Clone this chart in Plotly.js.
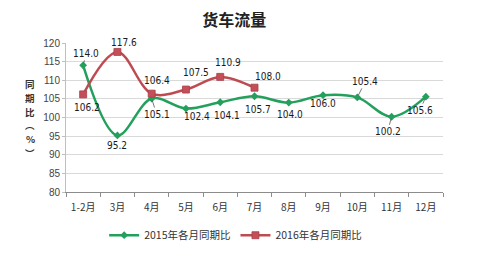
<!DOCTYPE html>
<html>
<head>
<meta charset="utf-8">
<script src="https://cdn.plot.ly/plotly-3.0.1.min.js"></script>
<style>html,body{margin:0;padding:0;background:#fff;}#chart{width:494px;height:275px;}</style>
</head>
<body>
<div id="chart"></div>
<script>
// ---- data ----
const months = ["1-2月","3月","4月","5月","6月","7月","8月","9月","10月","11月","12月"];
const series2015 = [114.0, 95.2, 105.1, 102.4, 104.1, 105.7, 104.0, 106.0, 105.4, 100.2, 105.6];
const series2016 = [106.2, 117.6, 106.4, 107.5, 110.9, 108.0];
const name2015 = "2015年各月同期比";
const name2016 = "2016年各月同期比";
const chartTitle = "货车流量";
const yTitleChars = ["同","期","比","︵","%","︶"];

// ---- label placement (pixel offsets, leader line flag) ----
const off2015 = [[3,-12,true],[0,10,false],[5,16,true],[11,8,false],[7,13,false],[3,13,false],[1,12,false],[0,8,false],[8,-16,true],[-4,15,true],[-6,14,true]];
const off2016 = [[4,13,false],[7,-9,false],[5,-13,false],[10,-17,false],[8,-14,false],[13,-11,false]];

const green = "#22a05c", red = "#bf4b52";
const labelFont = {family:"DejaVu Sans Condensed, Liberation Sans, sans-serif", size:10, color:"#1a1a1a"};

function makeLabels(vals, offs) {
  return vals.map((v, i) => {
    const o = offs[i];
    const a = {x: months[i], y: v, xref:"x", yref:"y", text: v.toFixed(1), font: labelFont};
    if (o[2]) {
      Object.assign(a, {showarrow:true, arrowhead:0, arrowwidth:0.8, arrowcolor:"#555", ax:o[0], ay:o[1], standoff:2});
    } else {
      Object.assign(a, {showarrow:false, xshift:o[0], yshift:-o[1]});
    }
    return a;
  });
}

const annotations = [].concat(makeLabels(series2015, off2015), makeLabels(series2016, off2016));
yTitleChars.forEach((c, i) => {
  annotations.push({xref:"paper", yref:"paper", x:-0.095, y:(192-(84+i*13.8))/149, xanchor:"center", yanchor:"middle",
    text:"<b>"+c+"</b>", showarrow:false, borderpad:0,
    font:{family:"Noto Sans CJK SC", size:9.5, color:"#333"}});
});

const traces = [
  {x: months, y: series2015, name: name2015, type:"scatter", mode:"lines+markers",
   line:{color:green, width:2.5, shape:"spline", smoothing:1}, marker:{symbol:"diamond", size:6, color:green}},
  {x: months.slice(0, series2016.length), y: series2016, name: name2016, type:"scatter", mode:"lines+markers",
   line:{color:red, width:2.5, shape:"spline", smoothing:1}, marker:{symbol:"square", size:7, color:"#c44f58", line:{color:"#a8404a", width:0.8}}}
];

const layout = {
  width:494, height:275,
  margin:{l:66, r:51, t:43, b:83},
  paper_bgcolor:"#fff", plot_bgcolor:"#fff",
  title:{text:"<b>"+chartTitle+"</b>", x:0.474, xanchor:"center", y:0.925, yanchor:"middle",
         font:{family:"Noto Sans CJK SC", size:16, color:"#222"}},
  showlegend:true,
  legend:{orientation:"h", x:0.45, xanchor:"center", y:-0.29, yanchor:"middle",
          font:{family:"Noto Sans CJK SC", size:10.5, color:"#333"}, itemwidth:30, tracegroupgap:0},
  xaxis:{type:"category", range:[-0.5, 10.5], showgrid:false, showline:true, linecolor:"#8c8c8c", linewidth:1,
         ticks:"outside", tickson:"boundaries", ticklen:4, tickcolor:"#8c8c8c", ticklabelstandoff:6,
         tickfont:{family:"Noto Sans CJK SC", size:10, color:"#333"}, zeroline:false, fixedrange:true},
  yaxis:{range:[80,120], dtick:5, showgrid:true, gridcolor:"#d9d9d9", showline:true, linecolor:"#bfbfbf",
         ticks:"outside", ticklen:3, tickcolor:"#bfbfbf", zeroline:false,
         tickfont:{family:"Liberation Sans, Arial, sans-serif", size:10, color:"#444"}},
  annotations: annotations
};

Plotly.newPlot("chart", traces, layout, {displayModeBar:false, staticPlot:true});
</script>
</body>
</html>
